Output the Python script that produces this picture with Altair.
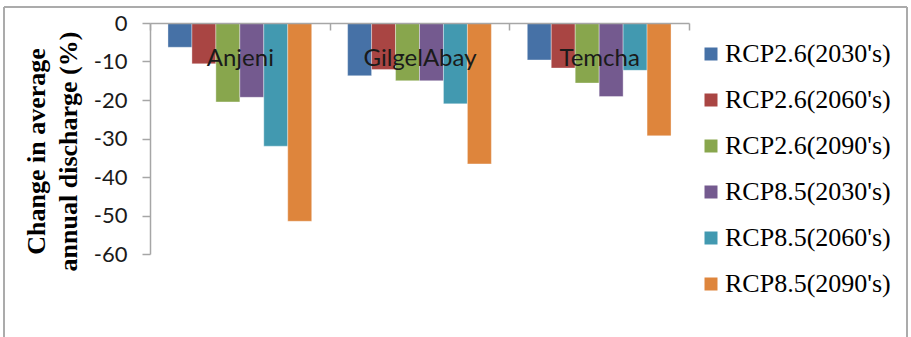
import altair as alt
import pandas as pd

# Catchments and climate scenarios
catchments = ["Anjeni", "GilgelAbay", "Temcha"]
scenarios = [
    "RCP2.6(2030's)", "RCP2.6(2060's)", "RCP2.6(2090's)",
    "RCP8.5(2030's)", "RCP8.5(2060's)", "RCP8.5(2090's)",
]
colors = ["#4671A6", "#A94543", "#88A64D", "#745A8F", "#4299B0", "#DE853C"]

# Change in average annual discharge (%) per catchment, one list per scenario
rcp26_2030 = [-6.3, -13.7, -9.6]
rcp26_2060 = [-10.6, -12.1, -11.7]
rcp26_2090 = [-20.5, -15.0, -15.6]
rcp85_2030 = [-19.3, -15.0, -19.1]
rcp85_2060 = [-32.0, -21.0, -12.3]
rcp85_2090 = [-51.5, -36.6, -29.3]

series = [rcp26_2030, rcp26_2060, rcp26_2090, rcp85_2030, rcp85_2060, rcp85_2090]
rows = []
for name, vals in zip(scenarios, series):
    for c, v in zip(catchments, vals):
        rows.append({"catchment": c, "scenario": name, "change": v})
df = pd.DataFrame(rows)

axis_gray = "#A6A6A6"

bars = alt.Chart(df).mark_bar(
    stroke="#ffffff", strokeOpacity=0.45, strokeWidth=0.8
).encode(
    x=alt.X(
        "catchment:N",
        sort=catchments,
        scale=alt.Scale(paddingInner=0, paddingOuter=0),
        axis=alt.Axis(
            title=None, orient="bottom", offset=-231, labelAngle=0,
            tickBand="extent", tickSize=7, tickColor=axis_gray, tickWidth=1.5,
            domainColor=axis_gray, domainWidth=1.5,
            labelFont="Lato", labelFontSize=24, labelColor="#1a1a1a",
            labelBaseline="alphabetic", labelPadding=35, zindex=1,
        ),
    ),
    xOffset=alt.XOffset(
        "scenario:N", sort=scenarios,
        scale=alt.Scale(paddingInner=0, paddingOuter=0.75),
    ),
    y=alt.Y(
        "change:Q",
        scale=alt.Scale(domain=[-60, 0], nice=False),
        axis=alt.Axis(
            title=["Change in average", "annual discharge (%)"],
            titleFont="Liberation Serif", titleFontSize=26, titleFontWeight="bold",
            titleColor="#000000", titleLineHeight=32,
            titleX=-114, titleY=128, titleBaseline="middle", titleAlign="center",
            values=[0, -10, -20, -30, -40, -50, -60],
            labelExpr="toString(datum.value)", grid=False,
            tickSize=8, tickColor=axis_gray, tickWidth=1.5,
            domainColor=axis_gray, domainWidth=1.5,
            labelFont="Lato", labelFontSize=22, labelColor="#1a1a1a",
            labelPadding=15,
        ),
    ),
    color=alt.Color(
        "scenario:N", sort=scenarios,
        scale=alt.Scale(domain=scenarios, range=colors),
        legend=alt.Legend(
            title=None, orient="none", legendX=548, legendY=18, padding=0,
            symbolType="square", symbolSize=169, symbolStrokeWidth=0,
            labelFont="Liberation Serif", labelFontSize=26, labelColor="#000000",
            labelOffset=1, rowPadding=20, labelLimit=300,
        ),
    ),
)

# Outer frame around the figure
frame_df = pd.DataFrame({"k": [0]})
frame_style = dict(color="#ABABAB", strokeWidth=2)
top_edge = alt.Chart(frame_df).mark_rule(**frame_style).encode(
    x=alt.value(-146), x2=alt.value(757), y=alt.value(-16)
)
left_edge = alt.Chart(frame_df).mark_rule(**frame_style).encode(
    x=alt.value(-146), y=alt.value(-16), y2=alt.value(320)
)
right_edge = alt.Chart(frame_df).mark_rule(**frame_style).encode(
    x=alt.value(757), y=alt.value(-16), y2=alt.value(320)
)

chart = alt.layer(bars, top_edge, left_edge, right_edge).properties(
    width=539, height=231,
    autosize=alt.AutoSizeParams(type="none"),
    padding={"left": 150, "top": 23, "right": 222, "bottom": 83},
    background="white",
).configure_view(stroke=None)

chart.save("out.html", embed_options={"renderer": "svg", "actions": False})
